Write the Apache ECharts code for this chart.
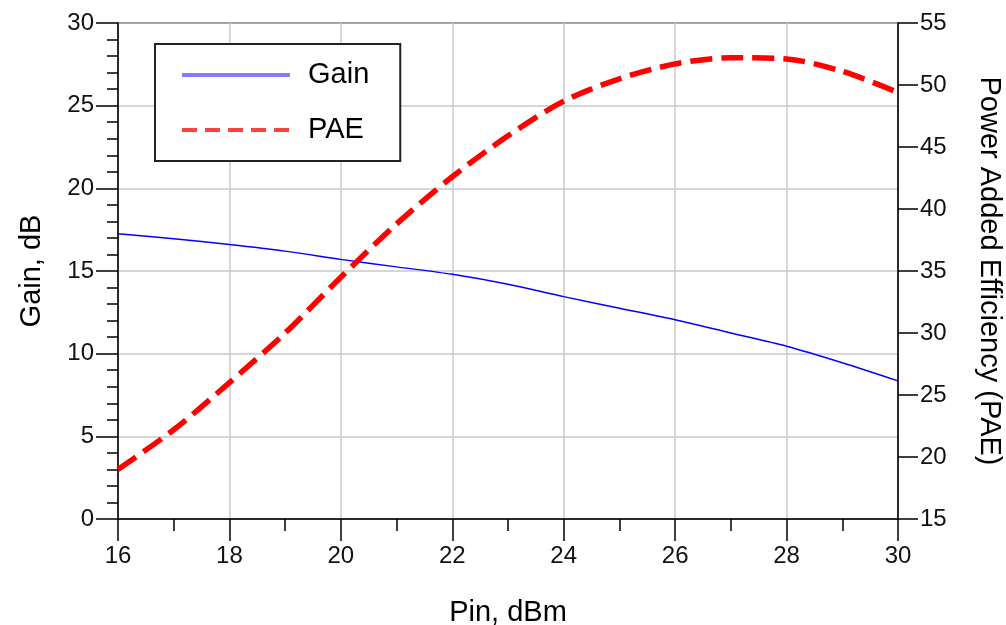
<!DOCTYPE html>
<html>
<head>
<meta charset="utf-8">
<script src="https://cdn.jsdelivr.net/npm/echarts@6/dist/echarts.min.js"></script>
<style>
html,body{margin:0;padding:0;background:#fff;}
#chart{width:1006px;height:625px;}
</style>
</head>
<body>
<div id="chart"></div>
<script>
const pin = [16, 17, 18, 19, 20, 21, 22, 23, 24, 25, 26, 27, 28, 29, 30];
const gain = [17.25, 16.95, 16.6, 16.2, 15.7, 15.25, 14.8, 14.2, 13.45, 12.75, 12.05, 11.25, 10.45, 9.45, 8.35];
const pae = [19.0, 22.2, 26.0, 30.0, 34.5, 38.8, 42.6, 45.9, 48.7, 50.5, 51.7, 52.2, 52.1, 51.1, 49.4];
const seriesNames = ['Gain', 'PAE'];
const xTitle = 'Pin, dBm';
const yLeftTitle = 'Gain, dB';
const yRightTitle = 'Power Added Efficiency (PAE)';

const FONT = '"Liberation Sans", Arial, sans-serif';
const chart = echarts.init(document.getElementById('chart'), null, {renderer: 'canvas'});

const axisLine = {show: true, lineStyle: {color: '#000', width: 1.5}};
const labelStyle = {color: '#111', fontSize: 24, fontFamily: FONT};
const nameStyle = {color: '#000', fontSize: 29, fontFamily: FONT};

chart.setOption({
  animation: false,
  backgroundColor: '#fff',
  grid: {left: 118, right: 108, top: 23, bottom: 106, containLabel: false, outerBoundsMode: 'none',
         show: true, borderColor: '#000', borderWidth: 1.5, backgroundColor: 'transparent'},
  legend: {
    left: 155, top: 44,
    orient: 'vertical',
    backgroundColor: '#fff',
    borderColor: '#222', borderWidth: 2, borderRadius: 0,
    padding: [16, 31, 16, 25],
    itemWidth: 108, itemHeight: 30, itemGap: 25,
    textStyle: {color: '#000', fontSize: 29, fontFamily: FONT, padding: [0, 0, 0, 13], lineHeight: 30},
    data: [
      {name: seriesNames[0], itemStyle: {opacity: 0}, lineStyle: {width: 4, color: '#8080ff', type: 'solid'}},
      {name: seriesNames[1], itemStyle: {opacity: 0}, lineStyle: {width: 4, color: '#ff4040', type: [15, 8]}}
    ]
  },
  xAxis: {
    type: 'value', min: 16, max: 30, interval: 2,
    name: xTitle, nameLocation: 'middle', nameGap: 79, nameTextStyle: nameStyle,
    axisLine: axisLine,
    axisTick: {show: true, inside: false, length: 22, lineStyle: {color: '#000', width: 1.5}},
    minorTick: {show: true, splitNumber: 2, length: 12, lineStyle: {color: '#000', width: 1.5}},
    axisLabel: Object.assign({margin: 25}, labelStyle),
    splitLine: {show: true, lineStyle: {color: '#c8c8c8', width: 1.5}}
  },
  yAxis: [
    {
      type: 'value', min: 0, max: 30, interval: 5, position: 'left',
      name: yLeftTitle, nameLocation: 'middle', nameGap: 72, nameTextStyle: nameStyle,
      axisLine: axisLine,
      axisTick: {show: true, inside: false, length: 22, lineStyle: {color: '#000', width: 1.5}},
      minorTick: {show: true, splitNumber: 5, length: 11, lineStyle: {color: '#000', width: 1.5}},
      axisLabel: Object.assign({margin: 24}, labelStyle),
      splitLine: {show: true, lineStyle: {color: '#c8c8c8', width: 1.5}}
    },
    {
      type: 'value', min: 15, max: 55, interval: 5, position: 'right',
      name: yRightTitle, nameLocation: 'middle', nameGap: 76, nameRotate: -90, nameTextStyle: nameStyle,
      axisLine: axisLine,
      axisTick: {show: true, inside: false, length: 20, lineStyle: {color: '#000', width: 1.5}},
      axisLabel: Object.assign({margin: 22}, labelStyle),
      splitLine: {show: false}
    }
  ],
  series: [
    {
      name: seriesNames[0], type: 'line', yAxisIndex: 0, showSymbol: false, symbol: 'none',
      smooth: 0.3,
      data: pin.map((p, i) => [p, gain[i]]),
      lineStyle: {color: '#0000ff', width: 1.4},
      itemStyle: {color: '#0000ff'}
    },
    {
      name: seriesNames[1], type: 'line', yAxisIndex: 1, showSymbol: false, symbol: 'none',
      smooth: 0.3,
      data: pin.map((p, i) => [p, pae[i]]),
      lineStyle: {color: '#ff0000', width: 5.5, type: [22, 9], cap: 'butt'},
      itemStyle: {color: '#ff0000'}
    }
  ]
});
</script>
</body>
</html>
